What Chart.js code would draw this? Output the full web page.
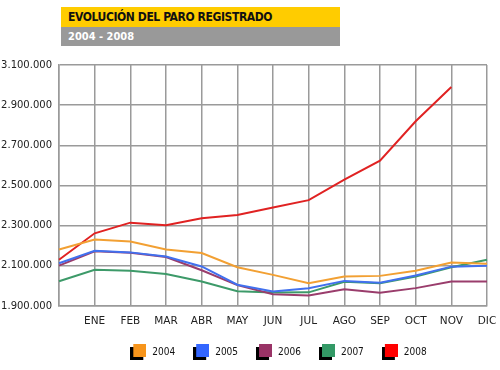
<!DOCTYPE html>
<html>
<head>
<meta charset="utf-8">
<script src="https://cdn.jsdelivr.net/npm/chart.js"></script>
<style>
    body { margin: 0; background: #fff; }
    #wrap { position: relative; width: 500px; height: 370px; }
    #banner1 {
        position: absolute; left: 61px; top: 7px; width: 279px; height: 20px;
        background: #ffcc00; color: #111;
        font: bold 12px "DejaVu Sans Condensed", "DejaVu Sans", sans-serif;
        letter-spacing: -0.4px;
        line-height: 21px; padding-left: 7px; box-sizing: border-box;
    }
    #banner2 {
        position: absolute; left: 61px; top: 27px; width: 279px; height: 19px;
        background: #999999; color: #fff;
        font: bold 11px "DejaVu Sans Condensed", "DejaVu Sans", sans-serif;
        line-height: 19px; padding-left: 7px; box-sizing: border-box;
    }
</style>
</head>
<body>
<div id="wrap">
    <canvas id="myChart" width="500" height="370"></canvas>
    <div id="banner1">EVOLUCIÓN DEL PARO REGISTRADO</div>
    <div id="banner2">2004 - 2008</div>
</div>
<script>
// Meses (el primer punto es diciembre del año anterior, sin etiqueta)
const months = ["", "ENE", "FEB", "MAR", "ABR", "MAY", "JUN", "JUL", "AGO", "SEP", "OCT", "NOV", "DIC"];

// Paro registrado por año
const paro2004 = [2181000, 2231000, 2221000, 2181000, 2164000, 2093000, 2055000, 2013000, 2047000, 2050000, 2076000, 2117000, 2110000];
const paro2005 = [2113000, 2175000, 2167000, 2146000, 2097000, 2006000, 1972000, 1988000, 2025000, 2016000, 2052000, 2096000, 2101000];
const paro2006 = [2101000, 2172000, 2165000, 2144000, 2078000, 2004000, 1959000, 1952000, 1983000, 1966000, 1989000, 2022000, 2022000];
const paro2007 = [2023000, 2080000, 2076000, 2059000, 2022000, 1974000, 1967000, 1968000, 2021000, 2013000, 2047000, 2093000, 2130000];
const paro2008 = [2130000, 2262000, 2315000, 2302000, 2337000, 2353000, 2390000, 2427000, 2529000, 2624000, 2820000, 2990000, null];

const years = ["2004", "2005", "2006", "2007", "2008"];
const series = [paro2004, paro2005, paro2006, paro2007, paro2008];
const lineColors = ["#f2a033", "#4170ee", "#9a3d6c", "#3d9a69", "#e02222"];
const boxColors = ["#f7951c", "#3366ff", "#993366", "#339966", "#ff0000"];

// Cuadrado con sombra negra para la leyenda
function legendBox(color) {
    let c = document.createElement("canvas");
    c.width = 16;
    c.height = 16;
    let ctx = c.getContext("2d");
    ctx.fillStyle = "#000";
    ctx.fillRect(0, 3, 13, 13);
    ctx.fillStyle = color;
    ctx.fillRect(3, 0, 13, 13);
    return c;
}

let datasets = years.map((year, i) => {
    return {
        label: year,
        data: series[i],
        borderColor: lineColors[i],
        backgroundColor: lineColors[i],
        borderWidth: 2,
        pointRadius: 0,
        tension: 0,
        fill: false,
        pointStyle: legendBox(boxColors[i])
    };
});

// Formato con puntos de miles
function miles(v) {
    return String(v).replace(/\B(?=(\d{3})+(?!\d))/g, ".");
}

// Desplaza la leyenda un poco a la derecha, como en el original
const shiftLegend = {
    id: "shiftLegend",
    afterLayout(chart) {
        chart.legend.left += 5;
        chart.legend.right += 5;
    }
};

new Chart("myChart", {
    type: "line",
    data: {
        labels: months,
        datasets: datasets
    },
    plugins: [shiftLegend],
    options: {
        responsive: false,
        animation: false,
        layout: {
            padding: { top: 65, right: 13, bottom: 3, left: 0 }
        },
        scales: {
            x: {
                offset: false,
                grid: {
                    color: "#9a9a9a",
                    lineWidth: 1.5,
                    drawTicks: false,
                    offset: false
                },
                border: { color: "#9a9a9a", width: 1.5 },
                ticks: {
                    autoSkip: false,
                    maxRotation: 0,
                    padding: 9,
                    color: "#222",
                    font: { family: "DejaVu Sans", size: 10.5 }
                },
                afterFit: (scale) => {
                    scale.height = 24;
                    scale.paddingLeft = 0;
                    scale.paddingRight = 0;
                }
            },
            y: {
                min: 1900000,
                max: 3100000,
                grid: {
                    color: "#9a9a9a",
                    lineWidth: 1.5,
                    drawTicks: false
                },
                border: { color: "#9a9a9a", width: 1.5 },
                ticks: {
                    stepSize: 200000,
                    padding: 7,
                    color: "#222",
                    font: { family: "DejaVu Sans", size: 10 },
                    callback: (v) => miles(v)
                },
                afterFit: (scale) => { scale.width = 59; }
            }
        },
        plugins: {
            legend: {
                display: true,
                position: "bottom",
                fullSize: false,
                labels: {
                    usePointStyle: true,
                    pointStyleWidth: 18,
                    padding: 17,
                    color: "#111",
                    font: { family: "DejaVu Sans Condensed", size: 10 }
                }
            },
            tooltip: { enabled: false }
        }
    }
});
</script>
</body>
</html>
